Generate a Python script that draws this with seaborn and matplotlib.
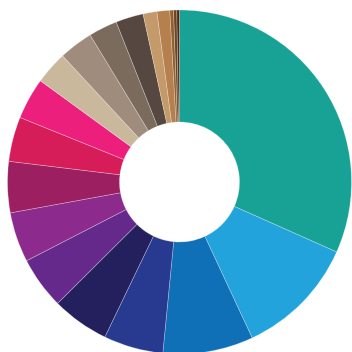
import matplotlib
matplotlib.use("Agg")
import matplotlib.pyplot as plt
import seaborn as sns

# slice shares (percent), clockwise from 12 o'clock
shares = [31.7, 11.4, 8.5, 5.6, 5.4, 4.9, 4.7, 4.8, 4.2, 3.9,
          3.1, 3.2, 2.7, 2.6, 1.3, 1.2, 0.35, 0.3, 0.25]
colors = ["#17a295", "#23a3dc", "#0f6fb7", "#283a8f", "#24205e",
          "#65298b", "#8d2a8d", "#9c1f61", "#d61d5a", "#ec1f7c",
          "#c9b89b", "#a08c7d", "#7a6b5d", "#564840", "#c59a6a",
          "#b57f4e", "#91602f", "#6e4322", "#4a2c14"]

sns.set_theme(style="white")

fig = plt.figure(figsize=(3.52, 3.52), dpi=100)
ax = fig.add_axes([0, 0, 1, 1])

outer = 172.0
inner = 60.0
ax.pie(shares, colors=colors, startangle=90, counterclock=False,
       radius=1.0,
       wedgeprops=dict(width=(outer - inner) / outer, edgecolor=(1, 1, 1, 0.35),
                       linewidth=0.5))

# place center at pixel (179.5, 182) with radius 172 px
cx, cy = 179.5, 182.0
ax.set_xlim(-cx / outer, (352 - cx) / outer)
ax.set_ylim(-(352 - cy) / outer, cy / outer)
ax.set_aspect("equal")
ax.axis("off")

fig.savefig("out.png", dpi=100, facecolor="white")
